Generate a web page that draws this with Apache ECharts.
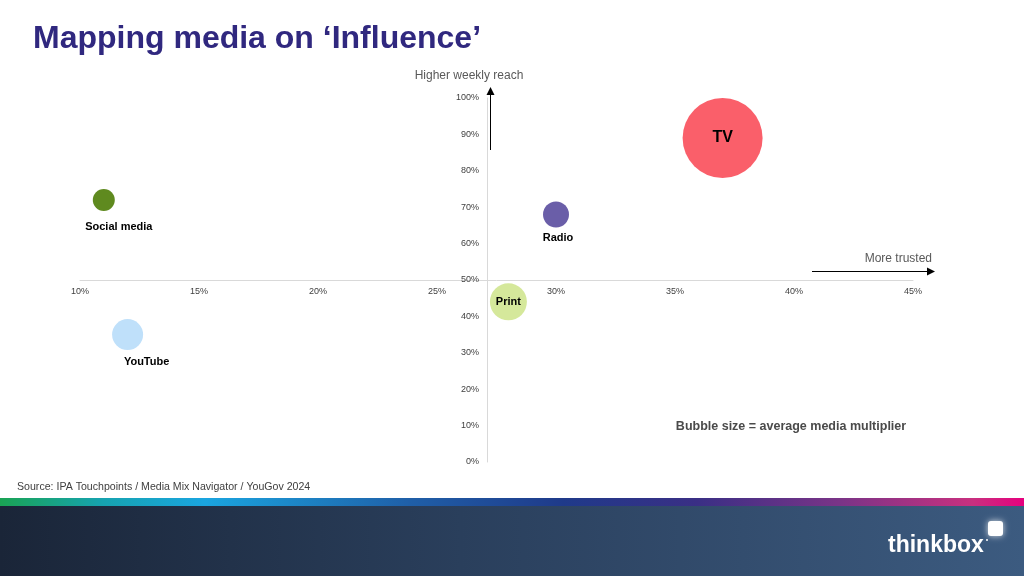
<!DOCTYPE html>
<html>
<head>
<meta charset="utf-8">
<script src="https://cdn.jsdelivr.net/npm/echarts@6/dist/echarts.min.js"></script>
<style>
html,body{margin:0;padding:0;background:#fff;}
#chart{width:1024px;height:576px;}
</style>
</head>
<body>
<div id="chart"></div>
<script>
// ---- Data ----
const categories = ['TV', 'Radio', 'Print', 'Social media', 'YouTube'];
const trust = [37, 30, 28, 11, 12];          // x: % more trusted
const reach = [89, 68, 44, 72, 35];          // y: weekly reach %
const multiplier = [4.0, 1.3, 1.85, 1.1, 1.55]; // bubble size = average media multiplier
const colors = ['#fa5f6a', '#6a5ea8', '#d5e89b', '#5f8a1f', '#bfe0fa'];
const xTicks = [10, 15, 20, 25, 30, 35, 40, 45];
const yTicks = [0, 10, 20, 30, 40, 50, 60, 70, 80, 90, 100];
const xCross = 27.1;  // where the vertical axis crosses
const yCross = 50;    // where the horizontal axis crosses

// ---- Layout ----
const gridL = 80, gridR = 111, gridT = 98, gridB = 114;
const W = 1024 - gridL - gridR, H = 576 - gridT - gridB;
const xMin = xTicks[0], xMax = xTicks[xTicks.length - 1];
const yMin = yTicks[0], yMax = yTicks[yTicks.length - 1];
const yAxisOffset = -((xCross - xMin) / (xMax - xMin)) * W;
const xAxisOffset = -((yCross - yMin) / (yMax - yMin)) * H;

const labelCfg = [
  { position: 'inside', fontSize: 16 },
  { position: 'bottom', distance: 5, offset: [2, 0] },
  { position: 'inside', fontSize: 11 },
  { position: 'bottom', distance: 11, offset: [15, 0] },
  { position: 'bottom', distance: 6, offset: [19, 0] }
];

const data = categories.map((c, i) => ({
  name: c,
  value: [trust[i], reach[i], multiplier[i]],
  itemStyle: { color: colors[i], opacity: 1 },
  label: Object.assign({ show: true, formatter: c, color: '#000', fontWeight: 'bold', fontSize: 11, fontFamily: 'Liberation Sans' }, labelCfg[i])
}));

const chart = echarts.init(document.getElementById('chart'));
const gray = '#595959';
const font = 'Liberation Sans';

function arrowHead(tipX, tipY, dir) {
  if (dir === 'up') return [[tipX, tipY], [tipX - 4, tipY + 8], [tipX + 4, tipY + 8]];
  return [[tipX, tipY], [tipX - 8, tipY - 4], [tipX - 8, tipY + 4]];
}

chart.setOption({
  animation: false,
  backgroundColor: '#fff',
  grid: { left: gridL, right: gridR, top: gridT, bottom: gridB },
  xAxis: {
    type: 'value', min: xMin, max: xMax, interval: 5,
    offset: xAxisOffset,
    axisLine: { show: true, onZero: false, lineStyle: { color: '#d9d9d9', width: 1 } },
    axisTick: { show: false },
    splitLine: { show: false },
    axisLabel: { formatter: '{value}%', color: '#404040', fontSize: 9, fontFamily: font, margin: 7, showMinLabel: true, showMaxLabel: true }
  },
  yAxis: {
    type: 'value', min: yMin, max: yMax, interval: 10,
    offset: yAxisOffset,
    axisLine: { show: true, onZero: false, lineStyle: { color: '#d9d9d9', width: 1 } },
    axisTick: { show: false },
    splitLine: { show: false },
    axisLabel: { formatter: '{value}%', color: '#404040', fontSize: 9, fontFamily: font, margin: 8 }
  },
  series: [{
    type: 'scatter',
    data: data,
    symbolSize: v => v[2] * 20,
    z: 5
  }],
  graphic: [
    { type: 'text', left: 33, top: 23, style: { text: 'Mapping media on \u2018Influence\u2019', fill: '#30287f', font: 'bold 32px "Liberation Sans"' } },
    { type: 'text', style: { text: 'Higher weekly reach', x: 469, y: 76, fill: gray, font: '12px "Liberation Sans"', align: 'center', verticalAlign: 'middle' } },
    { type: 'line', shape: { x1: 490.5, y1: 150, x2: 490.5, y2: 94 }, style: { stroke: '#000', lineWidth: 1 } },
    { type: 'polygon', shape: { points: arrowHead(490.5, 87, 'up') }, style: { fill: '#000' } },
    { type: 'text', style: { text: 'More trusted', x: 932, y: 259, fill: gray, font: '12px "Liberation Sans"', align: 'right', verticalAlign: 'middle' } },
    { type: 'line', shape: { x1: 812, y1: 271.5, x2: 928, y2: 271.5 }, style: { stroke: '#000', lineWidth: 1 } },
    { type: 'polygon', shape: { points: arrowHead(935, 271.5, 'right') }, style: { fill: '#000' } },
    { type: 'text', style: { text: 'Bubble size = average media multiplier', x: 791, y: 427, fill: '#4a4a4a', font: 'bold 12.5px "Liberation Sans"', align: 'center', verticalAlign: 'middle' } },
    { type: 'text', style: { text: 'Source: IPA Touchpoints / Media Mix Navigator / YouGov 2024', x: 17, y: 487, fill: '#404040', font: '10.6px "Liberation Sans"', verticalAlign: 'middle' } },
    { type: 'rect', shape: { x: 0, y: 498, width: 1024, height: 8 }, style: { fill: new echarts.graphic.LinearGradient(0, 0, 1, 0, [
      { offset: 0, color: '#1aa354' }, { offset: 0.1, color: '#16a3b0' }, { offset: 0.2, color: '#1aa5e0' },
      { offset: 0.4, color: '#1f5fa8' }, { offset: 0.55, color: '#1f3a8a' }, { offset: 0.68, color: '#3a2f85' },
      { offset: 0.82, color: '#7a3487' }, { offset: 0.95, color: '#c8307f' }, { offset: 1, color: '#e6007e' }
    ]) } },
    { type: 'rect', shape: { x: 0, y: 506, width: 1024, height: 70 }, style: { fill: new echarts.graphic.LinearGradient(0, 0, 1, 0, [
      { offset: 0, color: '#1a2538' }, { offset: 0.45, color: '#2a3f5c' }, { offset: 1, color: '#3c5b80' }
    ]) } },
    { type: 'text', style: { text: 'thinkbox', x: 888, y: 546, fill: '#fff', font: 'bold 23px "Liberation Sans"', verticalAlign: 'middle' } },
    { type: 'rect', shape: { x: 988, y: 521, width: 15, height: 15, r: 3 }, style: { fill: '#fff', shadowBlur: 6, shadowColor: 'rgba(255,255,255,0.8)' } },
    { type: 'circle', shape: { cx: 987, cy: 540, r: 1 }, style: { fill: '#fff' } }
  ]
});
</script>
</body>
</html>
